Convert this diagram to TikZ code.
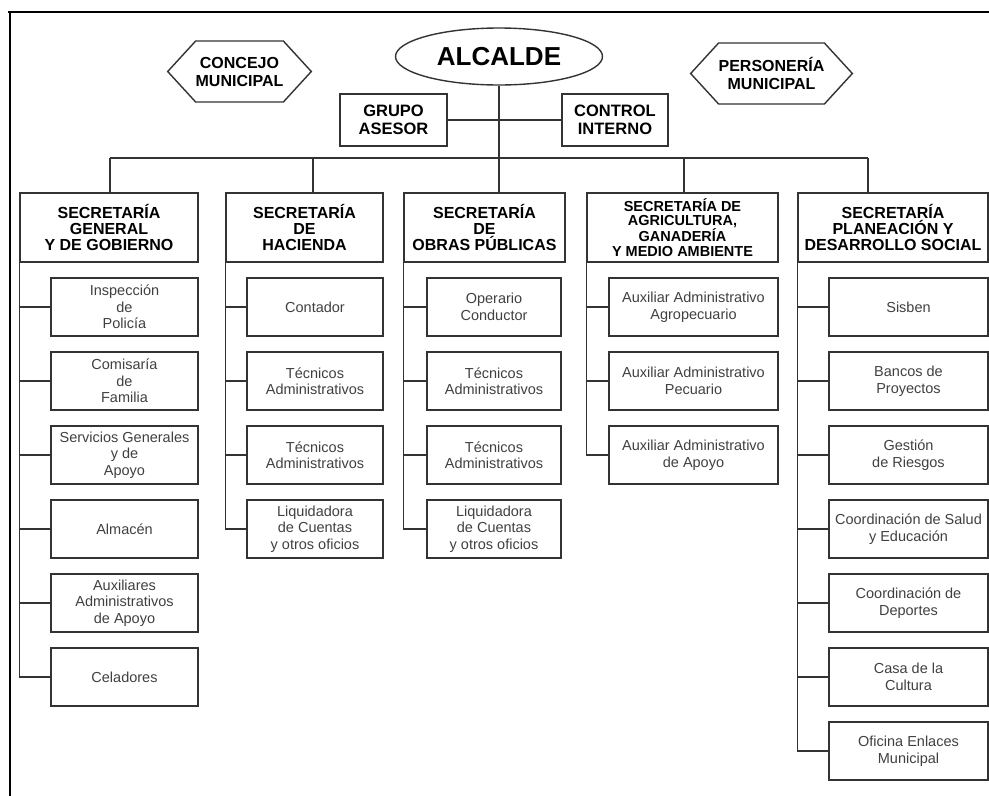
\documentclass[tikz,border=0pt]{standalone}
\usepackage{fontspec}
\setmainfont{Liberation Sans}
\usetikzlibrary{shapes.geometric,shapes.symbols}

\begin{document}
\begin{tikzpicture}[x=1pt,y=-1pt,line width=1.4pt,black!80,
  sec/.style={draw, minimum height=69, inner sep=1pt, align=center, text=black,
    font=\bfseries\fontsize{16}{16}\selectfont},
  sub/.style={draw, minimum height=58, inner sep=1pt, align=center, text=black!75,
    font=\fontsize{14.5}{16.5}\selectfont},
  hexa/.style={draw, signal, signal to=west and east, signal pointer angle=95,
    minimum width=141, minimum height=61, inner sep=0pt, align=center, text=black,
    font=\bfseries\fontsize{16}{18}\selectfont},
  head/.style={draw, minimum height=52, inner sep=1pt, align=center, text=black,
    font=\bfseries\fontsize{16.5}{18}\selectfont}]

\useasboundingbox (0,0) rectangle (989,796);

% marco
\draw[black, line width=1.6pt] (8,12) -- (989,12);
\draw[black, line width=1.6pt] (10,12) -- (10,796);

\newcommand{\colboxes}[4]{
 \foreach \txt [count=\i, evaluate=\i as \yy using 233+74*\i] in {#4}
 {
	 \node[sub, minimum width=#3] (#1\i) at (#2,\yy) {\txt};
	 \draw (#1.south west) |- (#1\i.west);
 }
}

\node[ellipse, draw, minimum width=207, minimum height=57, inner sep=0pt, text=black,
  font=\bfseries\fontsize{26}{26}\selectfont] (alc) at (499,56.5) {ALCALDE};
\node[hexa] (con) at (239.5,71.5) {CONCEJO\\MUNICIPAL};
\node[hexa] (per) at (771.5,73.5) {PERSONERÍA\\MUNICIPAL};
\node[head, minimum width=107] (ga) at (393.5,120) {GRUPO\\ASESOR};
\node[head, minimum width=106] (ci) at (615,120) {CONTROL\\INTERNO};
\draw (ga.east) -- (ci.west);

% secretarias
\node[sec, minimum width=178] (gob) at (109,227.5) {SECRETARÍA\\GENERAL\\Y DE GOBIERNO};
\node[sec, minimum width=157] (hac) at (304.5,227.5) {SECRETARÍA\\DE\\HACIENDA};
\node[sec, minimum width=161] (obr) at (484.5,227.5) {SECRETARÍA\\DE\\OBRAS PÚBLICAS};
\node[sec, minimum width=191, font=\bfseries\fontsize{14.5}{14.5}\selectfont] (agr)
  at (682.5,227.5) {SECRETARÍA DE\\AGRICULTURA,\\GANADERÍA\\Y MEDIO AMBIENTE};
\node[sec, minimum width=190] (pla) at (893,227.5) {SECRETARÍA\\PLANEACIÓN Y\\DESARROLLO SOCIAL};

\foreach \x/\s [count=\i] in {110/gob,313/hac,499/obr,684/agr,868/pla}
{
	 \coordinate (d\i) at (\x,158);
	 \draw (d\i) -- (d\i |- \s.north);
}
\draw (d1) -- (d5);
\draw (alc.south) -- (d3);

% dependencias
\colboxes{gob}{124.5}{147}{{Inspección\\de\\Policía},{Comisaría\\de\\Familia},
  {Servicios Generales\\y de\\Apoyo},{Almacén},{Auxiliares\\Administrativos\\de Apoyo},{Celadores}}
\colboxes{hac}{315}{136}{{Contador},{Técnicos\\Administrativos},{Técnicos\\Administrativos},
  {Liquidadora\\de Cuentas\\y otros oficios}}
\colboxes{obr}{494}{134}{{Operario\\Conductor},{Técnicos\\Administrativos},{Técnicos\\Administrativos},
  {Liquidadora\\de Cuentas\\y otros oficios}}
\colboxes{agr}{693.5}{169}{{Auxiliar Administrativo\\Agropecuario},{Auxiliar Administrativo\\Pecuario},
  {Auxiliar Administrativo\\de Apoyo}}
\colboxes{pla}{908.5}{159}{{Sisben},{Bancos de\\Proyectos},{Gestión\\de Riesgos},
  {Coordinación de Salud\\y Educación},{Coordinación de\\Deportes},{Casa de la\\Cultura},
  {Oficina Enlaces\\Municipal}}
%\draw (pla.south west) -- (pla7.west -| pla.south west);
\end{tikzpicture}
\end{document}
